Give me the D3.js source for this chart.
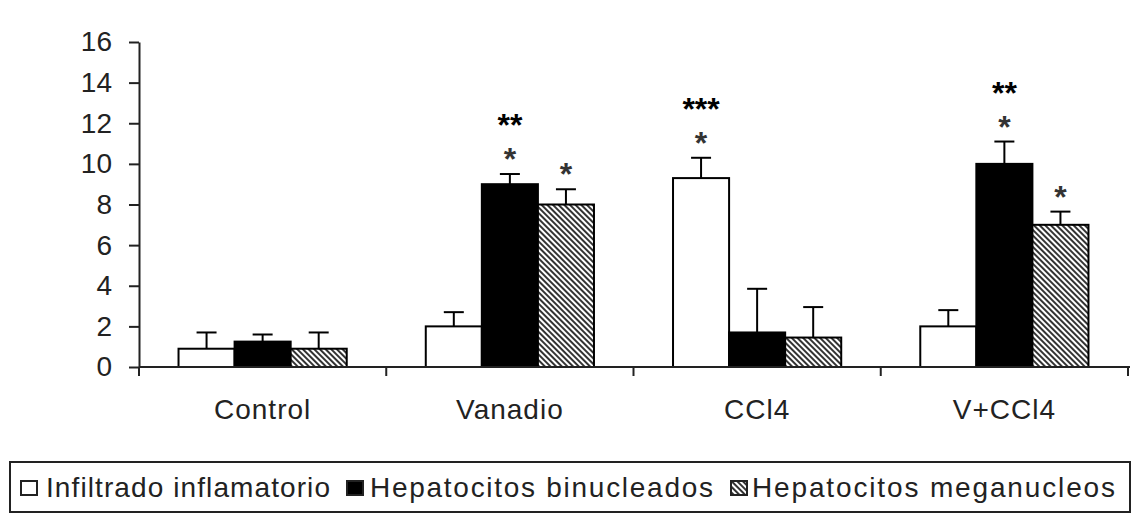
<!DOCTYPE html>
<html>
<head>
<meta charset="utf-8">
<script src="https://cdn.jsdelivr.net/npm/d3@7/dist/d3.min.js"></script>
<style>
  body { margin: 0; background: #fff; }
  text { font-family: "Liberation Sans", Arial, sans-serif; }
</style>
</head>
<body>
<div id="chart"></div>
<script>
"use strict";

// Data
const categories = ["Control", "Vanadio", "CCl4", "V+CCl4"];
const seriesNames = ["Infiltrado inflamatorio", "Hepatocitos binucleados", "Hepatocitos meganucleos"];
const infiltrado = [0.9, 2.0, 9.3, 2.0];
const binucleados = [1.25, 9.0, 1.7, 10.0];
const meganucleos = [0.9, 8.0, 1.45, 7.0];
const infiltradoErr = [0.8, 0.7, 1.0, 0.8];
const binucleadosErr = [0.35, 0.5, 2.15, 1.1];
const meganucleosErr = [0.8, 0.75, 1.5, 0.65];
// significance marks: first row next to the bar, second row above it
const infiltradoMarks = ["", "", "*", ""];
const binucleadosMarks = ["", "*", "", "*"];
const meganucleosMarks = ["", "*", "", "*"];
const infiltradoMarks2 = ["", "", "***", ""];
const binucleadosMarks2 = ["", "**", "", "**"];
const meganucleosMarks2 = ["", "", "", ""];
const yTicks = [0, 2, 4, 6, 8, 10, 12, 14, 16];

const values = [infiltrado, binucleados, meganucleos];
const errors = [infiltradoErr, binucleadosErr, meganucleosErr];
const marks = [infiltradoMarks, binucleadosMarks, meganucleosMarks];
const marks2 = [infiltradoMarks2, binucleadosMarks2, meganucleosMarks2];

const W = 1133, H = 515;
const plotLeft = 139, plotRight = 1128, plotTop = 42, plotBottom = 367;
const ink = "#222";

let svg = d3.select("#chart").append("svg")
  .attr("width", W)
  .attr("height", H);

// Hatch pattern for the third series
let defs = svg.append("defs");
defs.append("pattern")
  .attr("id", "hatch")
  .attr("patternUnits", "userSpaceOnUse")
  .attr("width", 4)
  .attr("height", 4)
  .attr("patternTransform", "rotate(-45)")
  .call(p => {
    p.append("rect").attr("width", 4).attr("height", 4).attr("fill", "#fff");
    p.append("line")
      .attr("x1", 1).attr("y1", 0).attr("x2", 1).attr("y2", 4)
      .attr("stroke", "#000").attr("stroke-width", 1.6);
  });
const fills = ["#fff", "#000", "url(#hatch)"];

// Scales
let x = d3.scaleBand().domain(categories).range([plotLeft, plotRight]).padding(0);
let xs = d3.scaleBand().domain(d3.range(3)).range([0, x.bandwidth()])
  .paddingInner(0).paddingOuter(0.705);
let y = d3.scaleLinear().domain([0, 16]).range([plotBottom, plotTop]);

// Y axis
let yAxis = svg.append("g")
  .attr("transform", "translate(" + plotLeft + ",0)")
  .call(d3.axisLeft(y).tickValues(yTicks).tickSize(10).tickSizeOuter(0).tickPadding(17));
yAxis.select(".domain").attr("stroke", ink).attr("stroke-width", 2);
yAxis.selectAll(".tick line").attr("stroke", ink).attr("stroke-width", 2);
yAxis.selectAll(".tick text")
  .attr("fill", ink)
  .attr("font-size", "28px")
  .attr("font-family", "Liberation Sans, Arial, sans-serif");

// Bars, grouped by category
categories.forEach(function(cat, i) {
  let g = svg.append("g").attr("transform", "translate(" + x(cat) + ",0)");
  values.forEach(function(vals, s) {
    let bx = xs(s), bw = xs.bandwidth();
    let cx = bx + bw / 2;
    let errTop = y(vals[i] + errors[s][i]);

    // Error whisker (upper only)
    g.append("line")
      .attr("x1", cx).attr("x2", cx)
      .attr("y1", y(vals[i])).attr("y2", errTop)
      .attr("stroke", "#000").attr("stroke-width", 2);
    g.append("line")
      .attr("x1", cx - 10).attr("x2", cx + 10)
      .attr("y1", errTop).attr("y2", errTop)
      .attr("stroke", "#000").attr("stroke-width", 2);

    // Bar
    g.append("rect")
      .attr("x", bx)
      .attr("y", y(vals[i]))
      .attr("width", bw)
      .attr("height", y(0) - y(vals[i]))
      .attr("fill", fills[s])
      .attr("stroke", "#000")
      .attr("stroke-width", 2);

    // Significance marks, both rows in one text element
    if (marks[s][i] || marks2[s][i]) {
      let starY = errTop - 18;
      let t = g.append("text")
        .attr("text-anchor", "middle")
        .attr("font-family", "DejaVu Sans, sans-serif")
        .attr("font-size", "32px")
        .attr("font-weight", "bold");
      if (marks2[s][i]) {
        t.append("tspan")
          .attr("x", cx)
          .attr("y", starY - 34 + 14)
          .attr("fill", "#000")
          .text(marks2[s][i]);
      }
      if (marks[s][i]) {
        t.append("tspan")
          .attr("x", cx)
          .attr("y", starY + 14)
          .attr("fill", "#333")
          .text(marks[s][i]);
      }
    }
  });
});

// X axis line and boundary ticks
svg.append("line")
  .attr("x1", plotLeft).attr("x2", plotRight + 2)
  .attr("y1", y(0)).attr("y2", y(0))
  .attr("stroke", ink).attr("stroke-width", 2);
let bounds = categories.map(c => x(c)).concat([plotRight]);
svg.selectAll(".xtick")
  .data(bounds)
  .enter().append("line")
  .attr("class", "xtick")
  .attr("x1", d => d).attr("x2", d => d)
  .attr("y1", y(0)).attr("y2", y(0) + 9)
  .attr("stroke", ink).attr("stroke-width", 2);

// Category labels
svg.selectAll(".xlabel")
  .data(categories)
  .enter().append("text")
  .attr("class", "xlabel")
  .attr("x", d => x(d) + x.bandwidth() / 2)
  .attr("y", 419)
  .attr("text-anchor", "middle")
  .attr("font-size", "28px")
  .attr("letter-spacing", "1px")
  .attr("fill", ink)
  .text(d => d);

// Legend
svg.append("rect")
  .attr("x", 10).attr("y", 462)
  .attr("width", 1120).attr("height", 50)
  .attr("fill", "#fff")
  .attr("stroke", ink).attr("stroke-width", 2);

const swatchX = [21, 347, 731];
const labelX = [46, 370, 752];
const labelW = [284, 343, 363];
seriesNames.forEach(function(name, s) {
  svg.append("rect")
    .attr("x", swatchX[s]).attr("y", 481)
    .attr("width", 16).attr("height", 14)
    .attr("fill", fills[s])
    .attr("stroke", ink).attr("stroke-width", 2);
  svg.append("text")
    .attr("x", labelX[s]).attr("y", 497)
    .attr("font-size", "28px")
    .attr("textLength", labelW[s])
    .attr("lengthAdjust", "spacing")
    .attr("fill", ink)
    .text(name);
});
</script>
</body>
</html>
